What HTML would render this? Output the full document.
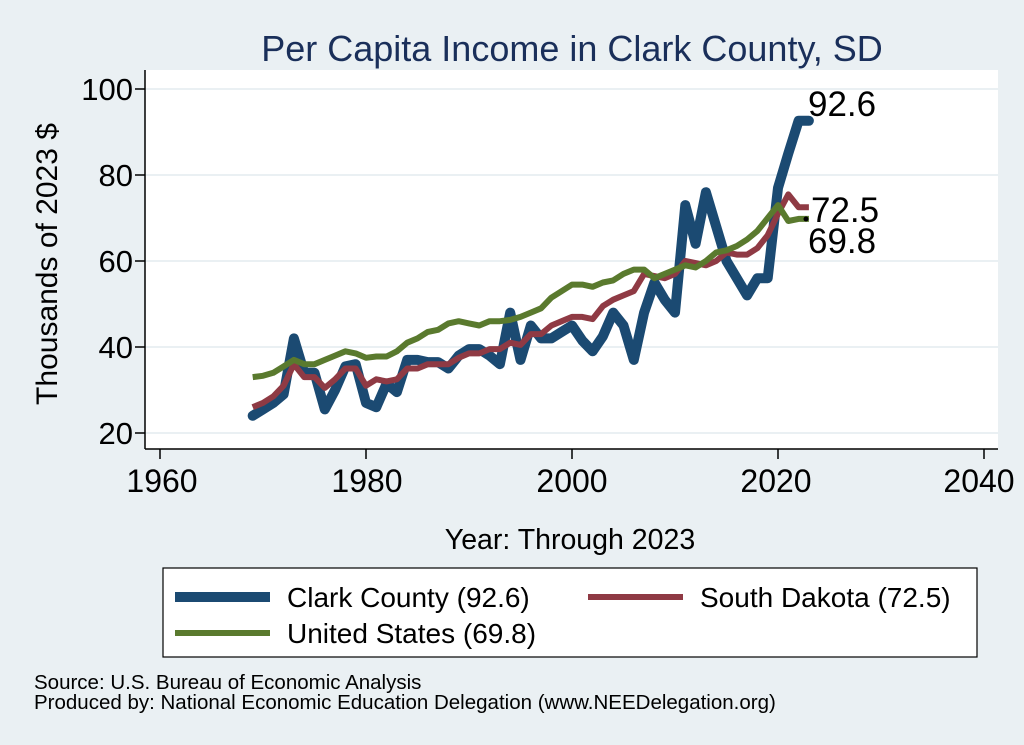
<!DOCTYPE html>
<html><head><meta charset="utf-8"><style>
body{margin:0;background:#eaf0f3;}
svg{display:block;font-family:"Liberation Sans",sans-serif;}
</style></head><body>
<svg id="s" width="1024" height="745" viewBox="0 0 1024 745">
<rect width="1024" height="745" fill="#eaf0f3"/>
<rect x="145" y="70" width="853" height="379" fill="#fff"/>
<g stroke="#eaf0f3" stroke-width="2">
<line x1="145" x2="998" y1="89" y2="89"/><line x1="145" x2="998" y1="175" y2="175"/>
<line x1="145" x2="998" y1="261" y2="261"/><line x1="145" x2="998" y1="347" y2="347"/>
<line x1="145" x2="998" y1="433" y2="433"/>
</g>
<g stroke="#000" stroke-width="1.5">
<line x1="145" y1="70" x2="145" y2="449"/><line x1="145" y1="449" x2="998" y2="449"/>
<line x1="135" x2="145" y1="89" y2="89"/><line x1="135" x2="145" y1="175" y2="175"/>
<line x1="135" x2="145" y1="261" y2="261"/><line x1="135" x2="145" y1="347" y2="347"/>
<line x1="135" x2="145" y1="433" y2="433"/>
<line x1="160" x2="160" y1="449" y2="459"/><line x1="366" x2="366" y1="449" y2="459"/>
<line x1="572" x2="572" y1="449" y2="459"/><line x1="778" x2="778" y1="449" y2="459"/>
<line x1="984" x2="984" y1="449" y2="459"/>
</g>
<g font-size="31" text-anchor="end" fill="#000">
<text x="133" y="100">100</text><text x="133" y="186">80</text><text x="133" y="272">60</text>
<text x="133" y="358">40</text><text x="133" y="444">20</text>
</g>
<g font-size="32" text-anchor="middle" fill="#000">
<text x="162" y="492">1960</text><text x="367" y="492">1980</text><text x="572" y="492">2000</text>
<text x="776" y="492">2020</text><text x="979" y="492">2040</text>
</g>
<text x="572" y="61" font-size="36" text-anchor="middle" fill="#1a2f5a">Per Capita Income in Clark County, SD</text>
<text transform="translate(57,264) rotate(-90)" font-size="30" text-anchor="middle">Thousands of 2023 $</text>
<text x="570" y="549" font-size="28.5" text-anchor="middle">Year: Through 2023</text>
<g id="lines"></g>
<g font-size="35" fill="#000">
<text x="808" y="116">92.6</text><text x="811" y="222">72.5</text><text x="808" y="253">69.8</text>
</g>
<circle cx="806" cy="219" r="2.5" fill="#000"/>
<rect x="163" y="568" width="814" height="89" fill="#fff" stroke="#000" stroke-width="1.2"/>
<line x1="175" x2="270" y1="597" y2="597" stroke="#1b4a72" stroke-width="10"/>
<line x1="588" x2="683" y1="597" y2="597" stroke="#8f3a44" stroke-width="6"/>
<line x1="175" x2="270" y1="633" y2="633" stroke="#5a7a2e" stroke-width="6"/>
<g font-size="28"><text x="287" y="607">Clark County (92.6)</text><text x="700" y="607">South Dakota (72.5)</text>
<text x="287" y="643">United States (69.8)</text></g>
<g font-size="20.5"><text x="34" y="689">Source: U.S. Bureau of Economic Analysis</text>
<text x="34" y="709">Produced by: National Economic Education Delegation (www.NEEDelegation.org)</text></g>
</svg>
<script>
var c=[24,25.5,27,29,42,34,34,25.5,30,35.5,36,27,26,31.5,29.5,37,37,36.5,36.5,35,38,39.5,39.5,38,36,48,37,45,42,42,43.5,45,41.5,39,42.5,48,45,37,48,55,51,48,73,64,76,68,60,56,52,56,56,77,85,92.6,92.6];
var s=[26,27,28.5,31,36,33,33,30.5,32.5,35,35,31,32.5,32,32.5,35,35,36,36,36,37.5,38.5,38.5,39.5,39.5,41,40.5,43,43,45,46,47,47,46.5,49.5,51,52,53,57,56.5,56,57,60,59.5,59,60,62,61.5,61.5,63,66,71,75.5,72.5,72.5];
var u=[33,33.3,34,35.5,37,36,36,37,38,39,38.5,37.5,37.8,37.8,39,41,42,43.5,44,45.5,46,45.5,45,46,46,46.3,47,48,49,51.5,53,54.5,54.5,54,55,55.5,57,58,58,56,57,58,59,58.5,60,62,62.5,63.5,65,67,70,73,69.3,69.8,69.8];
function pts(a){return a.slice(0,55).map(function(v,i){return (160+10.3*(i+9)).toFixed(1)+","+(433-4.3*(v-20)).toFixed(1)}).join(" ");}
var g=document.getElementById("lines");
g.innerHTML='<polyline points="'+pts(c)+'" fill="none" stroke="#1b4a72" stroke-width="10" stroke-linejoin="round" stroke-linecap="round"/>'+
'<polyline points="'+pts(s)+'" fill="none" stroke="#8f3a44" stroke-width="6" stroke-linejoin="round"/>'+
'<polyline points="'+pts(u)+'" fill="none" stroke="#5a7a2e" stroke-width="6" stroke-linejoin="round"/>';
</script>
</body></html>
